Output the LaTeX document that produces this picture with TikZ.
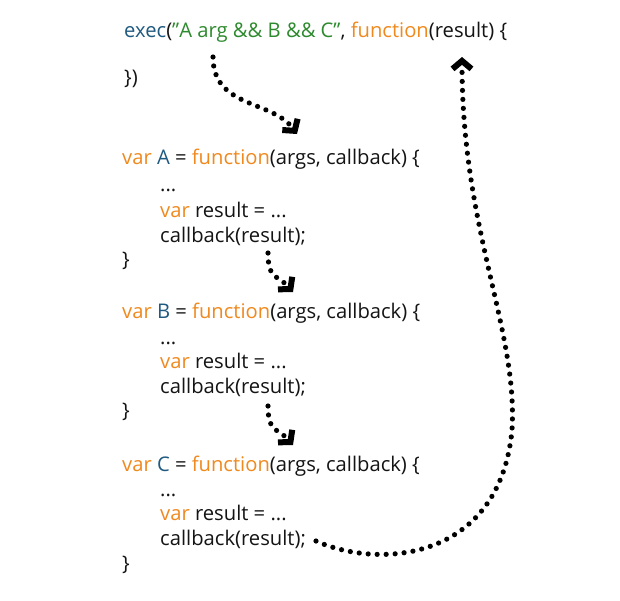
\documentclass[tikz,border=0pt]{standalone}
\usepackage{fontspec}
\setmainfont{Open Sans}
\usetikzlibrary{arrows.meta}
\definecolor{kw}{HTML}{F0891E}
\definecolor{id}{HTML}{1F5A80}
\definecolor{str}{HTML}{2E8A2E}
\definecolor{txt}{HTML}{141414}
\tikzset{
  code/.style={anchor=base west, inner sep=0pt, font=\fontsize{20.2}{24}\selectfont, text=txt},
  flow/.style={line width=5.2pt, line cap=round, dash pattern=on 0pt off 9pt,
    -{Straight Barb[length=8pt,width=19pt,line width=6pt]}},
}
\newcommand{\kw}[1]{\textcolor{kw}{#1}}
\newcommand{\idn}[1]{\textcolor{id}{#1}}
\newcommand{\str}[1]{\textcolor{str}{#1}}
\begin{document}
\begin{tikzpicture}[x=1pt,y=-1pt]
\useasboundingbox (0,0) rectangle (620,600);
\fill[white] (0,0) rectangle (620,600);
\node[code] (exec) at (124,37) {\idn{exec}(\str{"A arg \&\& B \&\& C"}, \kw{function}(result) \{};
\node[code] (close) at (124,84) {\})};
% A
\node[code] (a1) at (122,164) {\kw{var} \idn{A} = \kw{function}(args, callback) \{};
\node[code] (a2) at (160,191) {...};
\node[code] (a3) at (160,217) {\kw{var} result = ...};
\node[code] (a4) at (160,242) {callback(result);};
\node[code] (a5) at (122,266) {\}};
% B
\node[code] (b1) at (122,318) {\kw{var} \idn{B} = \kw{function}(args, callback) \{};
\node[code] (b2) at (160,344) {...};
\node[code] (b3) at (160,368) {\kw{var} result = ...};
\node[code] (b4) at (160,393) {callback(result);};
\node[code] (b5) at (122,417) {\}};
% C
\node[code] (c1) at (122,471) {\kw{var} \idn{C} = \kw{function}(args, callback) \{};
\node[code] (c2) at (160,496) {...};
\node[code] (c3) at (160,520) {\kw{var} result = ...};
\node[code] (c4) at (160,545) {callback(result);};
\node[code] (c5) at (122,570) {\}};
% connector end points
\coordinate (s1) at (213,57);
\coordinate (e1) at (297,134);
\coordinate (s2) at (268,253);
\coordinate (e2) at (293,292);
\coordinate (s3) at (268,406);
\coordinate (e3) at (293,445);
\coordinate (s4) at (316,541);
\coordinate (e4) at (462,57);
\draw[flow] (s1) .. controls (213,108) and (272,100) .. (e1);
\draw[flow] (s2) .. controls (268,280) and (278,275) .. (e2);
\draw[flow] (s3) .. controls (268,433) and (278,428) .. (e3);
\draw[flow] (s4) .. controls (380,570) and (500,560) .. (512,430)
  .. controls (518,330) and (462,230) .. (e4);
\end{tikzpicture}
\end{document}
